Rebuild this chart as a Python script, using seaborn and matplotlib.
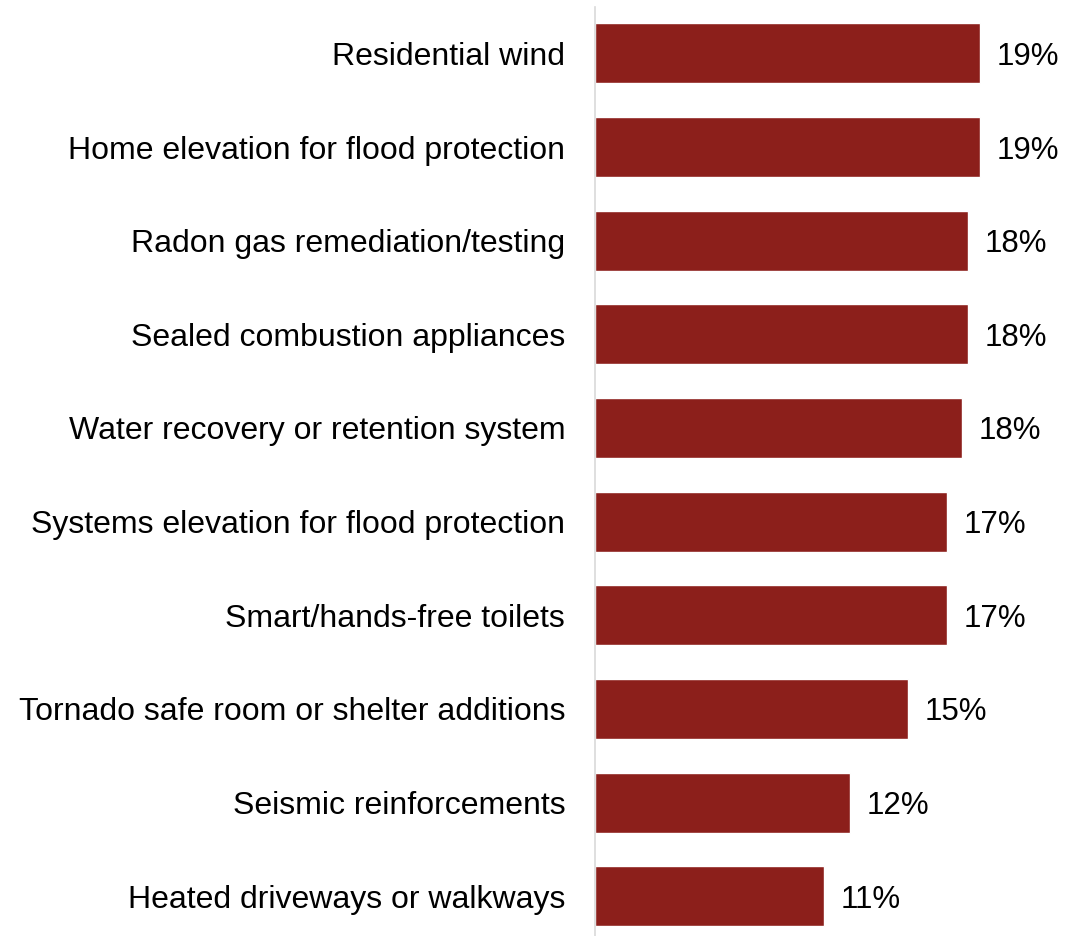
import matplotlib
matplotlib.use("Agg")
import matplotlib.pyplot as plt
import seaborn as sns
import pandas as pd

categories = [
    "Residential wind",
    "Home elevation for flood protection",
    "Radon gas remediation/testing",
    "Sealed combustion appliances",
    "Water recovery or retention system",
    "Systems elevation for flood protection",
    "Smart/hands-free toilets",
    "Tornado safe room or shelter additions",
    "Seismic reinforcements",
    "Heated driveways or walkways",
]
shares = [18.7, 18.7, 18.1, 18.1, 17.8, 17.1, 17.1, 15.2, 12.4, 11.1]

df = pd.DataFrame({"feature": categories, "share": shares})

sns.set_theme(style="white")
plt.rcParams["font.family"] = ["Liberation Sans", "DejaVu Sans"]

W, H = 1065, 936
fig = plt.figure(figsize=(W / 100, H / 100), dpi=100)
ax = fig.add_axes([595 / W, 0, 1 - 595 / W, (H - 6.7) / H])

sns.barplot(data=df, x="share", y="feature", orient="h", color="#8C1F1B",
            saturation=1, width=0.64, ax=ax)

ax.set_xlim(0, 470 / 20.6)
ax.set_ylim(9.424, -0.498)

texts = ax.bar_label(ax.containers[0], labels=[f"{v:.0f}%" for v in shares],
                     padding=12, fontsize=22.5, color="#000000")
for t in texts:
    t.set_verticalalignment("center_baseline")

ax.set_xlabel("")
ax.set_ylabel("")
ax.set_xticks([])
ax.tick_params(axis="y", length=0, pad=21.5, labelsize=23.0, labelcolor="#000000")
for lbl in ax.get_yticklabels():
    lbl.set_verticalalignment("center_baseline")

for side in ("top", "right", "bottom"):
    ax.spines[side].set_visible(False)
ax.spines["left"].set_color("#d9d9d9")
ax.spines["left"].set_linewidth(1.2)

fig.savefig("out.png", dpi=100, facecolor="white")
